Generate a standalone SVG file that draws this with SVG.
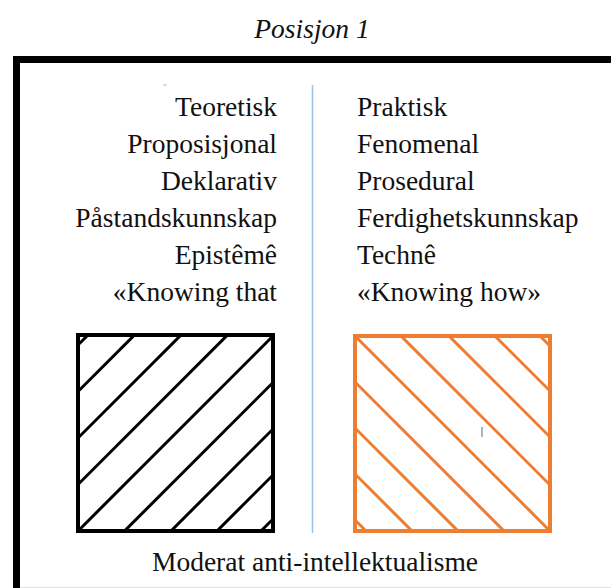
<svg xmlns="http://www.w3.org/2000/svg" width="611" height="588" viewBox="0 0 611 588">
  <style>
    .t { font-family: "Liberation Serif", "Times New Roman", serif; font-size: 27.5px; fill: #111; }
    .l { text-anchor: end; }
    .blk { stroke: #000; fill: none; }
    .org { stroke: #ED7D31; fill: none; }
  </style>
  <defs>
    <clipPath id="cb"><rect x="78" y="335" width="195" height="196"/></clipPath>
    <clipPath id="co"><rect x="355" y="336" width="195" height="195"/></clipPath>
  </defs>
  <rect width="611" height="588" fill="#fff"/>
  <text class="t" x="312" y="38" text-anchor="middle" font-style="italic" font-size="28.3">Posisjon 1</text>
  <g id="frame">
    <rect x="13" y="56" width="598" height="7" fill="#000"/>
    <rect x="13" y="56" width="7" height="532" fill="#000"/>
    <line x1="20" y1="587.5" x2="611" y2="587.5" stroke="#e3e3e3" stroke-width="1"/>
  </g>
  <g id="connectors">
    <line x1="312.5" y1="85" x2="312.5" y2="533" stroke="#9DC3E6" stroke-width="1.6"/>
  </g>
  <g id="left-labels">
    <line x1="163" y1="85" x2="167" y2="85" stroke="#bbb" stroke-width="1"/>
    <text class="t l" x="277" y="116">Teoretisk</text>
    <text class="t l" x="277" y="153">Proposisjonal</text>
    <text class="t l" x="277" y="190">Deklarativ</text>
    <text class="t l" x="277" y="227">Påstandskunnskap</text>
    <text class="t l" x="277" y="264">Epistêmê</text>
    <text class="t l" x="277" y="301">«Knowing that</text>
  </g>
  <g id="right-labels">
    <text class="t" x="357" y="116">Praktisk</text>
    <text class="t" x="357" y="153">Fenomenal</text>
    <text class="t" x="357" y="190">Prosedural</text>
    <text class="t" x="357" y="227">Ferdighetskunnskap</text>
    <text class="t" x="357" y="264">Technê</text>
    <text class="t" x="357" y="301">«Knowing how»</text>
  </g>
  <g id="black-box">
    <g clip-path="url(#cb)" class="blk" stroke-width="3">
      <line x1="-177" y1="600" x2="423" y2="0"/>
      <line x1="-130.5" y1="600" x2="469.5" y2="0"/>
      <line x1="-84" y1="600" x2="516" y2="0"/>
      <line x1="-37.5" y1="600" x2="562.5" y2="0"/>
      <line x1="9" y1="600" x2="609" y2="0"/>
      <line x1="55.5" y1="600" x2="655.5" y2="0"/>
      <line x1="102" y1="600" x2="702" y2="0"/>
      <line x1="148" y1="600" x2="748" y2="0"/>
      <line x1="192" y1="600" x2="792" y2="0"/>
    </g>
    <rect class="blk" x="78" y="335" width="195" height="196" stroke-width="4"/>
  </g>
  <g id="orange-box">
    <g clip-path="url(#co)" class="org" stroke-width="3">
      <line x1="-165" y1="0" x2="435" y2="600"/>
      <line x1="-119" y1="0" x2="481" y2="600"/>
      <line x1="-73" y1="0" x2="527" y2="600"/>
      <line x1="-27" y1="0" x2="573" y2="600"/>
      <line x1="19" y1="0" x2="619" y2="600"/>
      <line x1="65" y1="0" x2="665" y2="600"/>
      <line x1="113" y1="0" x2="713" y2="600"/>
      <line x1="159" y1="0" x2="759" y2="600"/>
      <line x1="204" y1="0" x2="804" y2="600"/>
    </g>
    <rect class="org" x="355" y="336" width="195" height="195" stroke-width="4"/>
    <line x1="482" y1="427" x2="482" y2="437" stroke="#999" stroke-width="1.5"/>
  </g>
  <g id="caption">
    <text class="t" x="315" y="571" text-anchor="middle" font-size="28.5">Moderat anti-intellektualisme</text>
  </g>
</svg>
